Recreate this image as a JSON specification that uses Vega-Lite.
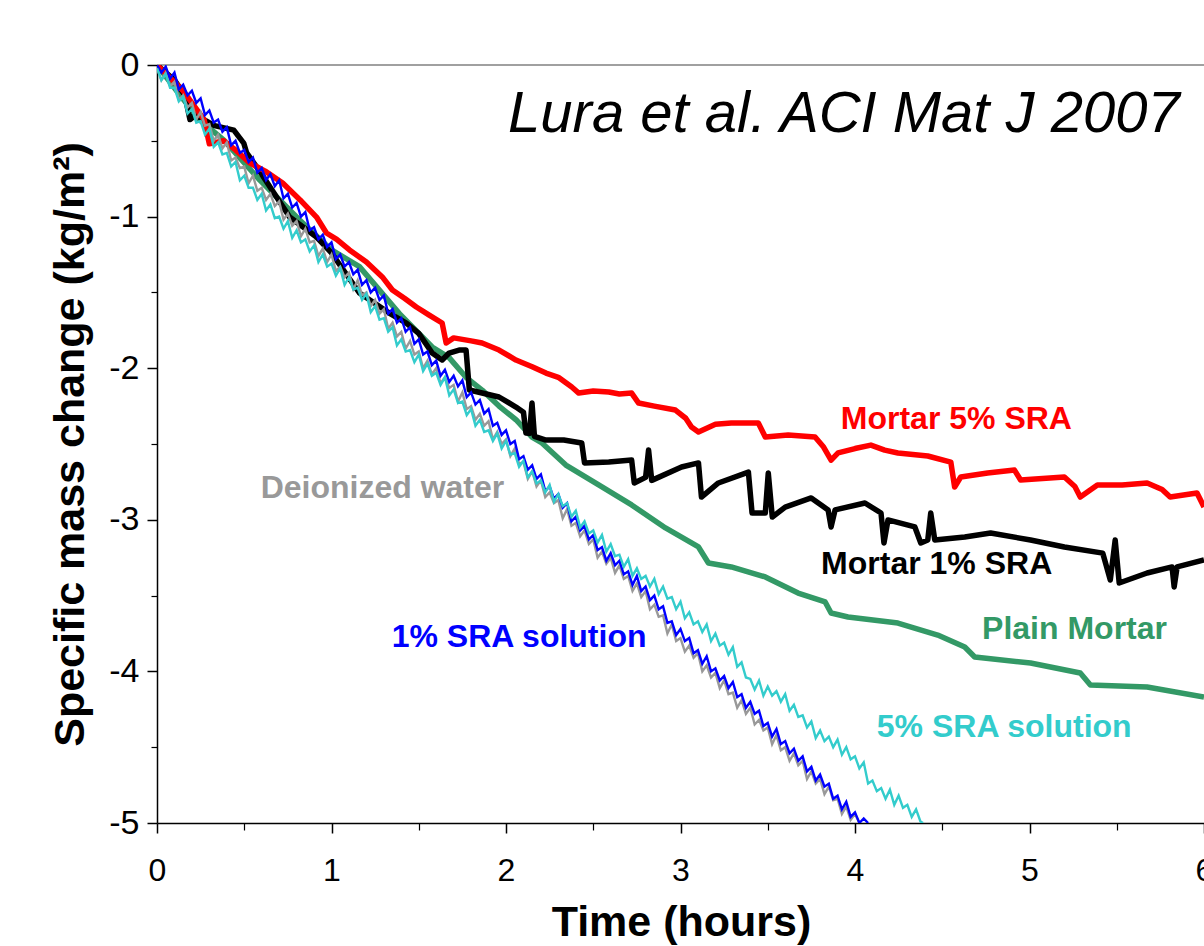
{
"$schema":"https://vega.github.io/schema/vega-lite/v6.json",
"width":1047,"height":758,
"autosize":{"type":"none"},
"padding":{"left":157,"top":65,"right":0,"bottom":123},
"background":"#ffffff",
"config":{"view":{"stroke":null},"font":"Liberation Sans","text":{"font":"Liberation Sans"},"axis":{"labelFont":"Liberation Sans","titleFont":"Liberation Sans","grid":false,"domainColor":"#000000","tickColor":"#000000","labelColor":"#000000","titleColor":"#000000"}},
"datasets":{
"origin":[{"t":0,"m":0}],
"note":[{"label":"Lura et al. ACI Mat J 2007","t":5.861,"m":-0.442}],
"labels":[
{"s":"m5","label":"Mortar 5% SRA","t":4.581,"m":-2.401},
{"s":"m1","label":"Mortar 1% SRA","t":4.468,"m":-3.357},
{"s":"plain","label":"Plain Mortar","t":5.258,"m":-3.786},
{"s":"sra5","label":"5% SRA solution","t":4.855,"m":-4.433},
{"s":"sra1","label":"1% SRA solution","t":2.075,"m":-3.839},
{"s":"water","label":"Deionized water","t":1.292,"m":-2.856}],
"thick":[
{"s":"plain","t":0,"m":0},{"s":"plain","t":0.131,"m":-0.198},{"s":"plain","t":0.246,"m":-0.363},{"s":"plain","t":0.383,"m":-0.495},{"s":"plain","t":0.589,"m":-0.759},{"s":"plain","t":0.817,"m":-1.022},{"s":"plain","t":1.0,"m":-1.22},{"s":"plain","t":1.16,"m":-1.33},{"s":"plain","t":1.389,"m":-1.64},{"s":"plain","t":1.577,"m":-1.86},{"s":"plain","t":1.674,"m":-1.93},{"s":"plain","t":1.771,"m":-2.06},{"s":"plain","t":1.863,"m":-2.144},{"s":"plain","t":1.96,"m":-2.25},{"s":"plain","t":2.057,"m":-2.34},{"s":"plain","t":2.149,"m":-2.454},{"s":"plain","t":2.206,"m":-2.493},{"s":"plain","t":2.343,"m":-2.639},{"s":"plain","t":2.531,"m":-2.77},{"s":"plain","t":2.72,"m":-2.902},{"s":"plain","t":2.914,"m":-3.054},{"s":"plain","t":3.103,"m":-3.179},{"s":"plain","t":3.16,"m":-3.285},{"s":"plain","t":3.291,"m":-3.311},{"s":"plain","t":3.486,"m":-3.377},{"s":"plain","t":3.674,"m":-3.483},{"s":"plain","t":3.829,"m":-3.542},{"s":"plain","t":3.863,"m":-3.615},{"s":"plain","t":3.96,"m":-3.641},{"s":"plain","t":4.246,"m":-3.681},{"s":"plain","t":4.474,"m":-3.76},{"s":"plain","t":4.629,"m":-3.839},{"s":"plain","t":4.686,"m":-3.905},{"s":"plain","t":5.006,"m":-3.945},{"s":"plain","t":5.291,"m":-4.011},{"s":"plain","t":5.349,"m":-4.09},{"s":"plain","t":5.674,"m":-4.103},{"s":"plain","t":6.0,"m":-4.169},
{"s":"m1","t":0,"m":0},{"s":"m1","t":0.1,"m":-0.1},{"s":"m1","t":0.16,"m":-0.2},{"s":"m1","t":0.189,"m":-0.36},{"s":"m1","t":0.22,"m":-0.33},{"s":"m1","t":0.33,"m":-0.4},{"s":"m1","t":0.44,"m":-0.43},{"s":"m1","t":0.497,"m":-0.515},{"s":"m1","t":0.514,"m":-0.58},{"s":"m1","t":0.6,"m":-0.72},{"s":"m1","t":0.76,"m":-1.003},{"s":"m1","t":0.914,"m":-1.135},{"s":"m1","t":1.0,"m":-1.24},{"s":"m1","t":1.16,"m":-1.504},{"s":"m1","t":1.331,"m":-1.636},{"s":"m1","t":1.429,"m":-1.702},{"s":"m1","t":1.5,"m":-1.77},{"s":"m1","t":1.577,"m":-1.9},{"s":"m1","t":1.634,"m":-1.946},{"s":"m1","t":1.674,"m":-1.9},{"s":"m1","t":1.731,"m":-1.88},{"s":"m1","t":1.771,"m":-1.88},{"s":"m1","t":1.79,"m":-2.144},{"s":"m1","t":1.96,"m":-2.19},{"s":"m1","t":2.057,"m":-2.256},{"s":"m1","t":2.1,"m":-2.29},{"s":"m1","t":2.114,"m":-2.427},{"s":"m1","t":2.135,"m":-2.43},{"s":"m1","t":2.149,"m":-2.23},{"s":"m1","t":2.163,"m":-2.45},{"s":"m1","t":2.229,"m":-2.474},{"s":"m1","t":2.331,"m":-2.474},{"s":"m1","t":2.434,"m":-2.493},{"s":"m1","t":2.45,"m":-2.625},{"s":"m1","t":2.589,"m":-2.619},{"s":"m1","t":2.72,"m":-2.606},{"s":"m1","t":2.735,"m":-2.757},{"s":"m1","t":2.8,"m":-2.72},{"s":"m1","t":2.817,"m":-2.54},{"s":"m1","t":2.835,"m":-2.74},{"s":"m1","t":3.006,"m":-2.652},{"s":"m1","t":3.103,"m":-2.625},{"s":"m1","t":3.12,"m":-2.85},{"s":"m1","t":3.217,"m":-2.757},{"s":"m1","t":3.389,"m":-2.685},{"s":"m1","t":3.41,"m":-2.955},{"s":"m1","t":3.486,"m":-2.955},{"s":"m1","t":3.503,"m":-2.691},{"s":"m1","t":3.526,"m":-2.982},{"s":"m1","t":3.6,"m":-2.916},{"s":"m1","t":3.749,"m":-2.856},{"s":"m1","t":3.846,"m":-2.935},{"s":"m1","t":3.863,"m":-3.047},{"s":"m1","t":3.886,"m":-2.935},{"s":"m1","t":4.057,"m":-2.889},{"s":"m1","t":4.149,"m":-2.955},{"s":"m1","t":4.166,"m":-3.153},{"s":"m1","t":4.189,"m":-3.001},{"s":"m1","t":4.343,"m":-3.047},{"s":"m1","t":4.377,"m":-3.153},{"s":"m1","t":4.417,"m":-3.133},{"s":"m1","t":4.434,"m":-2.955},{"s":"m1","t":4.457,"m":-3.133},{"s":"m1","t":4.629,"m":-3.113},{"s":"m1","t":4.777,"m":-3.087},{"s":"m1","t":5.006,"m":-3.133},{"s":"m1","t":5.2,"m":-3.179},{"s":"m1","t":5.42,"m":-3.22},{"s":"m1","t":5.463,"m":-3.397},{"s":"m1","t":5.491,"m":-3.133},{"s":"m1","t":5.514,"m":-3.417},{"s":"m1","t":5.674,"m":-3.351},{"s":"m1","t":5.817,"m":-3.311},{"s":"m1","t":5.829,"m":-3.443},{"s":"m1","t":5.846,"m":-3.311},{"s":"m1","t":6.0,"m":-3.265},
{"s":"m5","t":0,"m":0},{"s":"m5","t":0.15,"m":-0.17},{"s":"m5","t":0.27,"m":-0.36},{"s":"m5","t":0.3,"m":-0.52},{"s":"m5","t":0.383,"m":-0.5},{"s":"m5","t":0.45,"m":-0.56},{"s":"m5","t":0.531,"m":-0.646},{"s":"m5","t":0.62,"m":-0.7},{"s":"m5","t":0.72,"m":-0.778},{"s":"m5","t":0.82,"m":-0.89},{"s":"m5","t":0.914,"m":-1.003},{"s":"m5","t":0.971,"m":-1.108},{"s":"m5","t":1.03,"m":-1.15},{"s":"m5","t":1.103,"m":-1.22},{"s":"m5","t":1.2,"m":-1.3},{"s":"m5","t":1.291,"m":-1.398},{"s":"m5","t":1.349,"m":-1.484},{"s":"m5","t":1.42,"m":-1.54},{"s":"m5","t":1.486,"m":-1.596},{"s":"m5","t":1.56,"m":-1.65},{"s":"m5","t":1.634,"m":-1.702},{"s":"m5","t":1.657,"m":-1.834},{"s":"m5","t":1.7,"m":-1.8},{"s":"m5","t":1.8,"m":-1.82},{"s":"m5","t":1.863,"m":-1.834},{"s":"m5","t":1.96,"m":-1.88},{"s":"m5","t":2.057,"m":-1.946},{"s":"m5","t":2.15,"m":-1.99},{"s":"m5","t":2.229,"m":-2.032},{"s":"m5","t":2.3,"m":-2.06},{"s":"m5","t":2.377,"m":-2.124},{"s":"m5","t":2.417,"m":-2.164},{"s":"m5","t":2.5,"m":-2.15},{"s":"m5","t":2.589,"m":-2.157},{"s":"m5","t":2.65,"m":-2.17},{"s":"m5","t":2.72,"m":-2.164},{"s":"m5","t":2.76,"m":-2.23},{"s":"m5","t":2.85,"m":-2.25},{"s":"m5","t":2.971,"m":-2.276},{"s":"m5","t":3.03,"m":-2.33},{"s":"m5","t":3.063,"m":-2.388},{"s":"m5","t":3.103,"m":-2.421},{"s":"m5","t":3.2,"m":-2.37},{"s":"m5","t":3.291,"m":-2.361},{"s":"m5","t":3.446,"m":-2.361},{"s":"m5","t":3.486,"m":-2.454},{"s":"m5","t":3.617,"m":-2.441},{"s":"m5","t":3.771,"m":-2.454},{"s":"m5","t":3.82,"m":-2.52},{"s":"m5","t":3.863,"m":-2.606},{"s":"m5","t":3.903,"m":-2.559},{"s":"m5","t":4.0,"m":-2.53},{"s":"m5","t":4.091,"m":-2.507},{"s":"m5","t":4.17,"m":-2.54},{"s":"m5","t":4.246,"m":-2.559},{"s":"m5","t":4.417,"m":-2.579},{"s":"m5","t":4.549,"m":-2.619},{"s":"m5","t":4.571,"m":-2.784},{"s":"m5","t":4.606,"m":-2.718},{"s":"m5","t":4.76,"m":-2.691},{"s":"m5","t":4.914,"m":-2.672},{"s":"m5","t":4.949,"m":-2.737},{"s":"m5","t":5.2,"m":-2.718},{"s":"m5","t":5.26,"m":-2.78},{"s":"m5","t":5.291,"m":-2.85},{"s":"m5","t":5.389,"m":-2.77},{"s":"m5","t":5.531,"m":-2.77},{"s":"m5","t":5.674,"m":-2.757},{"s":"m5","t":5.76,"m":-2.8},{"s":"m5","t":5.806,"m":-2.85},{"s":"m5","t":5.96,"m":-2.823},{"s":"m5","t":6.0,"m":-2.916}],
"thin":[
{"t":0,"w":-0.02,"b":0,"c":-0.02},
{"t":0.025,"w":-0.10,"b":-0.05,"c":-0.10},
{"t":0.05,"w":-0.05,"b":-0.01,"c":-0.06},
{"t":0.075,"w":-0.14,"b":-0.09,"c":-0.15},
{"t":0.1,"w":-0.11,"b":-0.05,"c":-0.15},
{"t":0.125,"w":-0.23,"b":-0.16,"c":-0.24},
{"t":0.15,"w":-0.20,"b":-0.13,"c":-0.21},
{"t":0.175,"w":-0.28,"b":-0.20,"c":-0.32},
{"t":0.2,"w":-0.25,"b":-0.17,"c":-0.29},
{"t":0.225,"w":-0.36,"b":-0.25,"c":-0.38},
{"t":0.25,"w":-0.31,"b":-0.22,"c":-0.37},
{"t":0.275,"w":-0.40,"b":-0.33,"c":-0.46},
{"t":0.3,"w":-0.39,"b":-0.30,"c":-0.42},
{"t":0.325,"w":-0.50,"b":-0.38,"c":-0.54},
{"t":0.35,"w":-0.46,"b":-0.36,"c":-0.51},
{"t":0.375,"w":-0.55,"b":-0.44,"c":-0.59},
{"t":0.4,"w":-0.51,"b":-0.41,"c":-0.58},
{"t":0.425,"w":-0.63,"b":-0.53,"c":-0.67},
{"t":0.45,"w":-0.61,"b":-0.50,"c":-0.64},
{"t":0.475,"w":-0.68,"b":-0.58,"c":-0.76},
{"t":0.5,"w":-0.67,"b":-0.56,"c":-0.73},
{"t":0.525,"w":-0.78,"b":-0.64,"c":-0.81},
{"t":0.55,"w":-0.73,"b":-0.61,"c":-0.81},
{"t":0.575,"w":-0.83,"b":-0.71,"c":-0.89},
{"t":0.6,"w":-0.81,"b":-0.68,"c":-0.85},
{"t":0.625,"w":-0.89,"b":-0.76,"c":-0.96},
{"t":0.65,"w":-0.85,"b":-0.72,"c":-0.92},
{"t":0.675,"w":-0.93,"b":-0.80,"c":-1.01},
{"t":0.7,"w":-0.90,"b":-0.76,"c":-1.00},
{"t":0.725,"w":-1.02,"b":-0.88,"c":-1.08},
{"t":0.75,"w":-0.98,"b":-0.85,"c":-1.03},
{"t":0.775,"w":-1.06,"b":-0.94,"c":-1.14},
{"t":0.8,"w":-1.03,"b":-0.91,"c":-1.09},
{"t":0.825,"w":-1.13,"b":-1.00,"c":-1.17},
{"t":0.85,"w":-1.08,"b":-0.97,"c":-1.15},
{"t":0.875,"w":-1.17,"b":-1.09,"c":-1.23},
{"t":0.9,"w":-1.16,"b":-1.07,"c":-1.19},
{"t":0.925,"w":-1.26,"b":-1.15,"c":-1.30},
{"t":0.95,"w":-1.21,"b":-1.12,"c":-1.25},
{"t":0.975,"w":-1.30,"b":-1.20,"c":-1.33},
{"t":1.0,"w":-1.25,"b":-1.17,"c":-1.31},
{"t":1.025,"w":-1.36,"b":-1.28,"c":-1.39},
{"t":1.05,"w":-1.33,"b":-1.25,"c":-1.34},
{"t":1.075,"w":-1.40,"b":-1.33,"c":-1.45},
{"t":1.1,"w":-1.37,"b":-1.30,"c":-1.40},
{"t":1.125,"w":-1.48,"b":-1.38,"c":-1.48},
{"t":1.15,"w":-1.42,"b":-1.35,"c":-1.47},
{"t":1.175,"w":-1.52,"b":-1.45,"c":-1.55},
{"t":1.2,"w":-1.50,"b":-1.42,"c":-1.51},
{"t":1.225,"w":-1.59,"b":-1.50,"c":-1.63},
{"t":1.25,"w":-1.55,"b":-1.47,"c":-1.59},
{"t":1.275,"w":-1.64,"b":-1.55,"c":-1.68},
{"t":1.3,"w":-1.61,"b":-1.52,"c":-1.67},
{"t":1.325,"w":-1.74,"b":-1.64,"c":-1.76},
{"t":1.35,"w":-1.70,"b":-1.61,"c":-1.73},
{"t":1.375,"w":-1.79,"b":-1.70,"c":-1.85},
{"t":1.4,"w":-1.76,"b":-1.67,"c":-1.81},
{"t":1.425,"w":-1.87,"b":-1.76,"c":-1.89},
{"t":1.45,"w":-1.82,"b":-1.73,"c":-1.88},
{"t":1.475,"w":-1.91,"b":-1.84,"c":-1.96},
{"t":1.5,"w":-1.89,"b":-1.81,"c":-1.91},
{"t":1.525,"w":-2.00,"b":-1.91,"c":-2.02},
{"t":1.55,"w":-1.95,"b":-1.89,"c":-1.97},
{"t":1.575,"w":-2.04,"b":-1.98,"c":-2.05},
{"t":1.6,"w":-2.00,"b":-1.95,"c":-2.03},
{"t":1.625,"w":-2.10,"b":-2.05,"c":-2.11},
{"t":1.65,"w":-2.06,"b":-2.01,"c":-2.06},
{"t":1.675,"w":-2.13,"b":-2.09,"c":-2.18},
{"t":1.7,"w":-2.11,"b":-2.05,"c":-2.14},
{"t":1.725,"w":-2.22,"b":-2.12,"c":-2.23},
{"t":1.75,"w":-2.16,"b":-2.08,"c":-2.22},
{"t":1.775,"w":-2.27,"b":-2.19,"c":-2.31},
{"t":1.8,"w":-2.25,"b":-2.16,"c":-2.27},
{"t":1.825,"w":-2.34,"b":-2.24,"c":-2.38},
{"t":1.85,"w":-2.30,"b":-2.21,"c":-2.34},
{"t":1.875,"w":-2.38,"b":-2.30,"c":-2.42},
{"t":1.9,"w":-2.35,"b":-2.27,"c":-2.41},
{"t":1.925,"w":-2.47,"b":-2.38,"c":-2.48},
{"t":1.95,"w":-2.42,"b":-2.36,"c":-2.43},
{"t":1.975,"w":-2.50,"b":-2.44,"c":-2.53},
{"t":2.0,"w":-2.47,"b":-2.41,"c":-2.48},
{"t":2.025,"w":-2.58,"b":-2.50,"c":-2.57},
{"t":2.05,"w":-2.53,"b":-2.48,"c":-2.56},
{"t":2.075,"w":-2.63,"b":-2.60,"c":-2.65},
{"t":2.1,"w":-2.62,"b":-2.58,"c":-2.61},
{"t":2.125,"w":-2.73,"b":-2.67,"c":-2.72},
{"t":2.15,"w":-2.68,"b":-2.64,"c":-2.68},
{"t":2.175,"w":-2.78,"b":-2.73,"c":-2.76},
{"t":2.2,"w":-2.74,"b":-2.70,"c":-2.74},
{"t":2.225,"w":-2.85,"b":-2.81,"c":-2.82},
{"t":2.25,"w":-2.82,"b":-2.78,"c":-2.77},
{"t":2.275,"w":-2.89,"b":-2.86,"c":-2.88},
{"t":2.3,"w":-2.87,"b":-2.83,"c":-2.83},
{"t":2.325,"w":-2.99,"b":-2.92,"c":-2.91},
{"t":2.35,"w":-2.93,"b":-2.89,"c":-2.89},
{"t":2.375,"w":-3.04,"b":-3.01,"c":-2.98},
{"t":2.4,"w":-3.02,"b":-2.98,"c":-2.94},
{"t":2.425,"w":-3.11,"b":-3.07,"c":-3.05},
{"t":2.45,"w":-3.07,"b":-3.04,"c":-3.01},
{"t":2.475,"w":-3.16,"b":-3.13,"c":-3.09},
{"t":2.5,"w":-3.13,"b":-3.10,"c":-3.07},
{"t":2.525,"w":-3.25,"b":-3.20,"c":-3.15},
{"t":2.55,"w":-3.21,"b":-3.18,"c":-3.10},
{"t":2.575,"w":-3.29,"b":-3.27,"c":-3.21},
{"t":2.6,"w":-3.25,"b":-3.22,"c":-3.16},
{"t":2.625,"w":-3.35,"b":-3.30,"c":-3.24},
{"t":2.65,"w":-3.30,"b":-3.27,"c":-3.23},
{"t":2.675,"w":-3.39,"b":-3.36,"c":-3.31},
{"t":2.7,"w":-3.37,"b":-3.34,"c":-3.26},
{"t":2.725,"w":-3.47,"b":-3.43,"c":-3.37},
{"t":2.75,"w":-3.42,"b":-3.37,"c":-3.32},
{"t":2.775,"w":-3.51,"b":-3.47,"c":-3.39},
{"t":2.8,"w":-3.47,"b":-3.44,"c":-3.37},
{"t":2.825,"w":-3.59,"b":-3.53,"c":-3.44},
{"t":2.85,"w":-3.56,"b":-3.50,"c":-3.39},
{"t":2.875,"w":-3.64,"b":-3.59,"c":-3.49},
{"t":2.9,"w":-3.63,"b":-3.57,"c":-3.44},
{"t":2.925,"w":-3.75,"b":-3.68,"c":-3.52},
{"t":2.95,"w":-3.69,"b":-3.67,"c":-3.51},
{"t":2.975,"w":-3.80,"b":-3.76,"c":-3.59},
{"t":3.0,"w":-3.78,"b":-3.72,"c":-3.54},
{"t":3.025,"w":-3.87,"b":-3.80,"c":-3.65},
{"t":3.05,"w":-3.83,"b":-3.78,"c":-3.61},
{"t":3.075,"w":-3.91,"b":-3.88,"c":-3.69},
{"t":3.1,"w":-3.88,"b":-3.86,"c":-3.67},
{"t":3.125,"w":-4.00,"b":-3.95,"c":-3.74},
{"t":3.15,"w":-3.96,"b":-3.90,"c":-3.69},
{"t":3.175,"w":-4.04,"b":-4.00,"c":-3.80},
{"t":3.2,"w":-4.01,"b":-3.98,"c":-3.75},
{"t":3.225,"w":-4.11,"b":-4.06,"c":-3.83},
{"t":3.25,"w":-4.06,"b":-4.03,"c":-3.81},
{"t":3.275,"w":-4.15,"b":-4.11,"c":-3.89},
{"t":3.3,"w":-4.14,"b":-4.07,"c":-3.84},
{"t":3.325,"w":-4.24,"b":-4.17,"c":-3.97},
{"t":3.35,"w":-4.19,"b":-4.15,"c":-3.94},
{"t":3.375,"w":-4.28,"b":-4.24,"c":-4.04},
{"t":3.4,"w":-4.24,"b":-4.20,"c":-4.05},
{"t":3.425,"w":-4.35,"b":-4.28,"c":-4.12},
{"t":3.45,"w":-4.32,"b":-4.26,"c":-4.06},
{"t":3.475,"w":-4.39,"b":-4.36,"c":-4.16},
{"t":3.5,"w":-4.37,"b":-4.34,"c":-4.10},
{"t":3.525,"w":-4.48,"b":-4.43,"c":-4.16},
{"t":3.55,"w":-4.42,"b":-4.38,"c":-4.13},
{"t":3.575,"w":-4.52,"b":-4.48,"c":-4.20},
{"t":3.6,"w":-4.50,"b":-4.46,"c":-4.15},
{"t":3.625,"w":-4.59,"b":-4.54,"c":-4.26},
{"t":3.65,"w":-4.54,"b":-4.51,"c":-4.22},
{"t":3.675,"w":-4.62,"b":-4.59,"c":-4.30},
{"t":3.7,"w":-4.59,"b":-4.56,"c":-4.29},
{"t":3.725,"w":-4.71,"b":-4.66,"c":-4.37},
{"t":3.75,"w":-4.66,"b":-4.63,"c":-4.33},
{"t":3.775,"w":-4.74,"b":-4.72,"c":-4.44},
{"t":3.8,"w":-4.71,"b":-4.68,"c":-4.39},
{"t":3.825,"w":-4.81,"b":-4.76,"c":-4.46},
{"t":3.85,"w":-4.76,"b":-4.74,"c":-4.43},
{"t":3.875,"w":-4.85,"b":-4.84,"c":-4.50},
{"t":3.9,"w":-4.84,"b":-4.82,"c":-4.45},
{"t":3.925,"w":-4.94,"b":-4.91,"c":-4.55},
{"t":3.95,"w":-4.89,"b":-4.86,"c":-4.50},
{"t":3.975,"w":-4.98,"b":-4.96,"c":-4.58},
{"t":4.0,"w":-4.94,"b":-4.93,"c":-4.56},
{"t":4.025,"w":-5.0,"b":-5.0,"c":-4.64},
{"t":4.05,"b":-4.97,"c":-4.60},
{"t":4.075,"b":-5.0,"c":-4.74},
{"t":4.1,"c":-4.72},
{"t":4.125,"c":-4.79},
{"t":4.15,"c":-4.77},
{"t":4.175,"c":-4.84},
{"t":4.2,"c":-4.78},
{"t":4.225,"c":-4.88},
{"t":4.25,"c":-4.82},
{"t":4.275,"c":-4.90},
{"t":4.3,"c":-4.88},
{"t":4.325,"c":-4.96},
{"t":4.35,"c":-4.91},
{"t":4.375,"c":-4.99},
{"t":4.39,"c":-5.0}]
},
"layer":[
{"data":{"name":"origin"},"mark":{"type":"rule","color":"#808080","strokeWidth":1.5},
 "encoding":{"y":{"field":"m","type":"quantitative","scale":{"domain":[-5,0],"nice":false,"zero":false},"axis":null}}},
{"data":{"name":"origin"},"mark":{"type":"point","opacity":0},
 "encoding":{
  "x":{"field":"t","type":"quantitative","scale":{"domain":[0,6],"nice":false,"zero":false},"axis":{"orient":"bottom","values":[0.5,1.5,2.5,3.5,4.5,5.5],"labels":false,"domain":false,"tickSize":7,"tickWidth":1.2,"title":null}},
  "y":{"field":"m","type":"quantitative","scale":{"domain":[-5,0],"nice":false,"zero":false},"axis":{"orient":"left","values":[-0.5,-1.5,-2.5,-3.5,-4.5],"labels":false,"domain":false,"tickSize":6,"tickWidth":1.2,"title":null}}}},
{"data":{"name":"thick"},"mark":{"type":"line","strokeWidth":5.5,"strokeJoin":"round","clip":true},
 "encoding":{
  "x":{"field":"t","type":"quantitative","scale":{"domain":[0,6],"nice":false,"zero":false},"axis":{"orient":"bottom","values":[0,1,2,3,4,5,6],"format":"d","labelFontSize":32,"labelPadding":22,"labelFlush":false,"labelBound":false,"labelOverlap":false,"tickSize":10,"tickWidth":1.5,"domainWidth":1.5,"title":"Time (hours)","titleFontSize":43,"titleFontWeight":"bold","titleX":524,"titleY":112,"titleBaseline":"alphabetic","titleAlign":"center"}},
  "y":{"field":"m","type":"quantitative","scale":{"domain":[-5,0],"nice":false,"zero":false},"axis":{"orient":"left","values":[0,-1,-2,-3,-4,-5],"labelExpr":"datum.value == 0 ? '0' : '-' + abs(datum.value)","labelFontSize":34,"labelPadding":8,"labelFlush":false,"labelBound":false,"labelOverlap":false,"tickSize":10,"tickWidth":1.5,"domainWidth":1.5,"title":"Specific mass change (kg/m²)","titleFontSize":43,"titleFontWeight":"bold","titleAngle":270,"titleX":-74,"titleY":379,"titleBaseline":"alphabetic","titleAlign":"center"}},
  "color":{"field":"s","type":"nominal","scale":{"domain":["plain","m1","m5","water","sra1","sra5"],"range":["#339966","#000000","#ff0000","#999999","#0000ff","#33cccc"]},"legend":null}}},
{"data":{"name":"thin"},"transform":[{"filter":"isValid(datum.w)"}],"mark":{"type":"line","strokeWidth":2.4,"clip":true},
 "encoding":{
  "x":{"field":"t","type":"quantitative","scale":{"domain":[0,6],"nice":false,"zero":false},"axis":null},
  "y":{"field":"w","type":"quantitative","scale":{"domain":[-5,0],"nice":false,"zero":false},"axis":null},
  "color":{"datum":"water","type":"nominal","scale":{"domain":["plain","m1","m5","water","sra1","sra5"],"range":["#339966","#000000","#ff0000","#999999","#0000ff","#33cccc"]},"legend":null}}},
{"data":{"name":"thin"},"transform":[{"filter":"isValid(datum.b)"}],"mark":{"type":"line","strokeWidth":2.4,"clip":true},
 "encoding":{
  "x":{"field":"t","type":"quantitative","scale":{"domain":[0,6],"nice":false,"zero":false},"axis":null},
  "y":{"field":"b","type":"quantitative","scale":{"domain":[-5,0],"nice":false,"zero":false},"axis":null},
  "color":{"datum":"sra1","type":"nominal","scale":{"domain":["plain","m1","m5","water","sra1","sra5"],"range":["#339966","#000000","#ff0000","#999999","#0000ff","#33cccc"]},"legend":null}}},
{"data":{"name":"thin"},"transform":[{"filter":"isValid(datum.c)"}],"mark":{"type":"line","strokeWidth":2.4,"clip":true},
 "encoding":{
  "x":{"field":"t","type":"quantitative","scale":{"domain":[0,6],"nice":false,"zero":false},"axis":null},
  "y":{"field":"c","type":"quantitative","scale":{"domain":[-5,0],"nice":false,"zero":false},"axis":null},
  "color":{"datum":"sra5","type":"nominal","scale":{"domain":["plain","m1","m5","water","sra1","sra5"],"range":["#339966","#000000","#ff0000","#999999","#0000ff","#33cccc"]},"legend":null}}},
{"data":{"name":"labels"},"mark":{"type":"text","fontSize":32,"fontWeight":"bold","align":"center","baseline":"alphabetic","font":"Liberation Sans"},
 "encoding":{
  "x":{"field":"t","type":"quantitative","scale":{"domain":[0,6],"nice":false,"zero":false},"axis":null},
  "y":{"field":"m","type":"quantitative","scale":{"domain":[-5,0],"nice":false,"zero":false},"axis":null},
  "text":{"field":"label"},
  "color":{"field":"s","type":"nominal","scale":{"domain":["plain","m1","m5","water","sra1","sra5"],"range":["#339966","#000000","#ff0000","#999999","#0000ff","#33cccc"]},"legend":null}}},
{"data":{"name":"note"},"mark":{"type":"text","fontSize":58,"fontStyle":"italic","align":"right","baseline":"alphabetic","color":"#000000","font":"Liberation Sans"},
 "encoding":{
  "x":{"field":"t","type":"quantitative","scale":{"domain":[0,6],"nice":false,"zero":false},"axis":null},
  "y":{"field":"m","type":"quantitative","scale":{"domain":[-5,0],"nice":false,"zero":false},"axis":null},
  "text":{"field":"label"}}}
],
"resolve":{"axis":{"x":"independent","y":"independent"}}
}
